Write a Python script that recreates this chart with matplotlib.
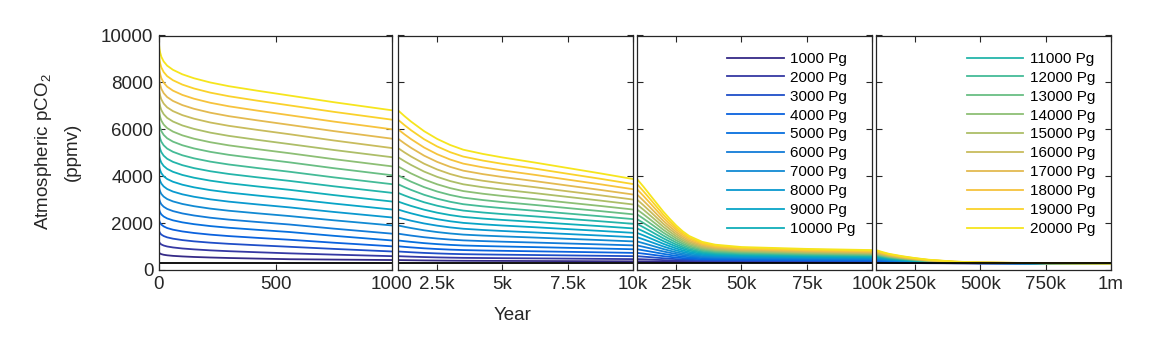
import numpy as np
import matplotlib
matplotlib.use("Agg")
import matplotlib.pyplot as plt
from matplotlib.colors import LinearSegmentedColormap

plt.rcParams['font.family'] = ['Liberation Sans', 'DejaVu Sans']
plt.rcParams['mathtext.default'] = 'regular'

# time axis (years after the pulse)
years = [0, 2, 5, 10, 20, 35, 60, 100, 150, 220, 300, 420, 560, 750, 1000,
         1250, 1500, 2000, 2500, 3000, 3500, 4250, 5000, 6250, 7500, 8750, 10000,
         12500, 15000, 17500, 20000, 22500, 25000, 27500, 30000, 35000, 40000, 50000, 75000, 100000,
         125000, 150000, 200000, 250000, 300000, 400000, 500000, 750000, 1000000]

# atmospheric pCO2 (ppmv) for each emission pulse
pg1000 = [748, 722, 700, 676, 650, 627, 603, 579, 556, 533, 512, 487, 460, 444, 425,
          420, 416, 408, 402, 397, 393, 390, 387, 383, 379, 374, 370,
          367, 363, 359, 356, 352, 350, 347, 345, 342, 341, 340, 330, 320,
          314, 309, 302, 296, 291, 286, 283, 281, 280]
pg2000 = [1216, 1170, 1131, 1090, 1044, 1003, 962, 918, 880, 838, 802, 758, 710, 656, 590,
          579, 569, 552, 538, 527, 518, 511, 504, 495, 485, 475, 465,
          455, 444, 433, 422, 412, 403, 396, 390, 382, 378, 375, 360, 350,
          340, 330, 318, 308, 300, 290, 285, 281, 281]
pg3000 = [1684, 1622, 1568, 1511, 1449, 1392, 1336, 1276, 1222, 1166, 1116, 1056, 990, 900, 790,
          773, 757, 729, 707, 689, 675, 663, 653, 638, 622, 606, 590,
          569, 547, 524, 502, 482, 464, 448, 435, 419, 411, 405, 390, 375,
          361, 348, 332, 318, 307, 293, 287, 282, 281]
pg4000 = [2152, 2074, 2008, 1937, 1860, 1789, 1719, 1645, 1579, 1508, 1446, 1372, 1290, 1164, 1010,
          986, 964, 925, 894, 869, 850, 832, 818, 797, 775, 753, 730,
          697, 662, 627, 592, 561, 532, 507, 487, 462, 450, 440, 420, 405,
          386, 370, 348, 330, 315, 298, 289, 283, 281]
pg5000 = [2620, 2530, 2453, 2371, 2281, 2199, 2118, 2032, 1955, 1873, 1801, 1715, 1620, 1458, 1260,
          1228, 1199, 1146, 1104, 1071, 1045, 1022, 1003, 975, 945, 916, 885,
          838, 789, 739, 690, 646, 605, 570, 541, 506, 489, 475, 450, 430,
          408, 388, 362, 340, 322, 301, 291, 283, 281]
pg6000 = [3088, 2985, 2896, 2802, 2699, 2605, 2512, 2413, 2325, 2230, 2148, 2049, 1940, 1764, 1550,
          1508, 1468, 1398, 1342, 1298, 1264, 1233, 1207, 1170, 1130, 1091, 1050,
          988, 924, 858, 793, 735, 681, 635, 597, 551, 528, 510, 480, 460,
          433, 410, 378, 352, 331, 305, 293, 284, 282]
pg7000 = [3556, 3443, 3346, 3243, 3130, 3027, 2925, 2817, 2721, 2618, 2527, 2419, 2300, 2120, 1900,
          1842, 1789, 1693, 1617, 1557, 1510, 1468, 1434, 1383, 1329, 1276, 1220,
          1142, 1061, 979, 896, 824, 756, 697, 650, 592, 563, 540, 510, 490,
          459, 431, 394, 364, 339, 309, 295, 284, 282]
pg8000 = [4024, 3902, 3798, 3687, 3565, 3454, 3344, 3228, 3124, 3013, 2915, 2799, 2670, 2476, 2240,
          2169, 2102, 1985, 1891, 1816, 1759, 1707, 1664, 1601, 1534, 1469, 1400,
          1306, 1207, 1107, 1007, 919, 837, 766, 709, 638, 603, 575, 540, 515,
          480, 449, 408, 374, 346, 313, 296, 285, 282]
pg9000 = [4492, 4361, 4250, 4130, 4000, 3881, 3763, 3638, 3526, 3407, 3303, 3178, 3040, 2833, 2580,
          2495, 2417, 2278, 2166, 2078, 2010, 1948, 1897, 1823, 1744, 1667, 1585,
          1474, 1357, 1239, 1121, 1017, 919, 835, 768, 684, 643, 610, 570, 545,
          505, 471, 424, 386, 354, 317, 299, 286, 282]
pg10000 = [4960, 4821, 4703, 4577, 4438, 4312, 4187, 4054, 3936, 3810, 3699, 3566, 3420, 3195, 2920,
           2823, 2732, 2572, 2444, 2342, 2264, 2193, 2135, 2049, 1958, 1869, 1775,
           1646, 1511, 1374, 1237, 1116, 1003, 906, 828, 731, 683, 645, 600, 570,
           527, 489, 438, 396, 361, 321, 300, 286, 283]
pg11000 = [5428, 5281, 5156, 5023, 4876, 4743, 4611, 4471, 4345, 4212, 4095, 3955, 3800, 3570, 3290,
           3178, 3074, 2889, 2741, 2623, 2534, 2452, 2385, 2286, 2181, 2078, 1970,
           1822, 1667, 1510, 1354, 1215, 1086, 974, 885, 773, 719, 675, 630, 600,
           552, 510, 454, 408, 370, 325, 302, 287, 283]
pg12000 = [5896, 5742, 5611, 5471, 5318, 5178, 5040, 4893, 4762, 4622, 4499, 4352, 4190, 3951, 3660,
           3533, 3416, 3207, 3040, 2908, 2806, 2714, 2638, 2526, 2408, 2292, 2170,
           2004, 1828, 1652, 1475, 1319, 1173, 1047, 947, 821, 760, 710, 660, 630,
           578, 532, 470, 420, 378, 329, 305, 287, 283]
pg13000 = [6364, 6204, 6068, 5922, 5763, 5617, 5473, 5321, 5184, 5039, 4911, 4759, 4590, 4342, 4040,
           3899, 3767, 3534, 3347, 3199, 3086, 2983, 2898, 2773, 2641, 2512, 2375,
           2189, 1994, 1796, 1599, 1425, 1262, 1122, 1009, 869, 800, 745, 690, 655,
           599, 550, 484, 430, 385, 333, 306, 288, 283]
pg14000 = [6832, 6665, 6523, 6371, 6204, 6052, 5902, 5743, 5600, 5449, 5315, 5156, 4980, 4728, 4420,
           4264, 4118, 3861, 3655, 3491, 3366, 3252, 3158, 3020, 2874, 2731, 2580,
           2375, 2159, 1941, 1723, 1531, 1351, 1196, 1072, 917, 841, 780, 720, 685,
           624, 572, 500, 442, 394, 337, 308, 289, 284]
pg15000 = [7300, 7126, 6978, 6819, 6646, 6487, 6331, 6165, 6017, 5858, 5719, 5553, 5370, 5118, 4810,
           4639, 4480, 4197, 3972, 3792, 3655, 3530, 3428, 3277, 3117, 2960, 2795,
           2569, 2331, 2090, 1850, 1638, 1439, 1269, 1132, 961, 877, 810, 750, 710,
           646, 590, 514, 452, 401, 340, 310, 289, 284]
pg16000 = [7768, 7590, 7438, 7275, 7097, 6935, 6775, 6605, 6453, 6290, 6148, 5978, 5790, 5524, 5200,
           5013, 4840, 4533, 4287, 4092, 3942, 3806, 3694, 3530, 3356, 3185, 3005,
           2759, 2500, 2238, 1977, 1746, 1530, 1344, 1195, 1009, 918, 845, 780, 740,
           671, 611, 530, 464, 409, 344, 312, 290, 284]
pg17000 = [8236, 8052, 7894, 7727, 7542, 7375, 7209, 7033, 6875, 6708, 6560, 6384, 6190, 5924, 5600,
           5398, 5210, 4876, 4610, 4398, 4236, 4089, 3967, 3789, 3601, 3415, 3220,
           2953, 2672, 2389, 2106, 1856, 1622, 1421, 1259, 1058, 960, 880, 810, 770,
           697, 633, 547, 476, 418, 349, 314, 290, 284]
pg18000 = [8704, 8515, 8353, 8180, 7991, 7818, 7648, 7467, 7305, 7132, 6981, 6800, 6600, 6330, 6000,
           5783, 5581, 5223, 4937, 4710, 4536, 4378, 4247, 4056, 3854, 3655, 3445,
           3157, 2853, 2547, 2241, 1970, 1717, 1499, 1325, 1107, 1001, 915, 840, 795,
           718, 651, 560, 486, 425, 352, 316, 291, 285]
pg19000 = [9172, 8978, 8813, 8636, 8442, 8266, 8092, 7907, 7741, 7564, 7410, 7224, 7020, 6745, 6410,
           6177, 5960, 5576, 5268, 5024, 4837, 4667, 4527, 4321, 4104, 3890, 3665,
           3355, 3029, 2699, 2370, 2079, 1807, 1573, 1386, 1152, 1037, 945, 870, 825,
           743, 672, 576, 498, 433, 356, 318, 291, 285]
pg20000 = [9640, 9442, 9273, 9092, 8894, 8714, 8536, 8346, 8177, 7997, 7838, 7649, 7440, 7156, 6810,
           6560, 6330, 5920, 5590, 5330, 5130, 4950, 4800, 4580, 4350, 4120, 3880,
           3550, 3200, 2850, 2500, 2190, 1900, 1650, 1450, 1200, 1080, 980, 900, 850,
           765, 690, 590, 508, 440, 360, 320, 292, 285]

series = [pg1000, pg2000, pg3000, pg4000, pg5000, pg6000, pg7000, pg8000, pg9000, pg10000,
          pg11000, pg12000, pg13000, pg14000, pg15000, pg16000, pg17000, pg18000, pg19000, pg20000]
labels = ['%d Pg' % (1000 * (k + 1)) for k in range(20)]
preindustrial = 280

# panel x ranges and ticks
xlims = [(0, 1000), (1000, 10000), (10000, 100000), (100000, 1000000)]
xticks = [[0, 500, 1000], [2500, 5000, 7500, 10000],
          [25000, 50000, 75000, 100000], [250000, 500000, 750000, 1000000]]
xticklabels = [['0', '500', '1000'], ['2.5k', '5k', '7.5k', '10k'],
               ['25k', '50k', '75k', '100k'], ['250k', '500k', '750k', '1m']]

# parula (MATLAB default) approximated from its table
parula_rgb = [(0.2081, 0.1663, 0.5292), (0.2081, 0.2386, 0.6771), (0.0591, 0.3598, 0.8683),
              (0.0165, 0.4266, 0.8786), (0.0723, 0.4887, 0.8467), (0.0641, 0.5570, 0.8240),
              (0.0239, 0.6287, 0.8038), (0.0384, 0.6743, 0.7436), (0.1453, 0.7098, 0.6646),
              (0.3022, 0.7376, 0.5712), (0.4871, 0.7491, 0.4840), (0.6473, 0.7456, 0.4188),
              (0.7858, 0.7356, 0.3633), (0.9139, 0.7258, 0.3063), (0.9955, 0.7861, 0.1967),
              (0.9626, 0.8705, 0.1309), (0.9763, 0.9831, 0.0538)]
parula = LinearSegmentedColormap.from_list('parula', parula_rgb)
colors = parula(np.linspace(0, 0.95, 20))

fig = plt.figure(figsize=(11.6, 3.4), dpi=100)
lefts = [159, 398, 637, 876]
widths = [233, 235, 235, 235]
axes = []
for j in range(4):
    ax = fig.add_axes([lefts[j] / 1160, 1 - 270 / 340, widths[j] / 1160, 234.5 / 340])
    for k in range(20):
        ax.plot(years, series[k], color=colors[k], lw=1.3, label=labels[k])
    ax.axhline(preindustrial, color='black', lw=1.3)
    ax.set_xlim(*xlims[j])
    ax.set_ylim(0, 10000)
    ax.set_xticks(xticks[j])
    ax.set_xticklabels(xticklabels[j])
    ax.set_yticks(range(0, 10001, 2000))
    if j > 0:
        ax.set_yticklabels([])
    ax.tick_params(direction='in', top=True, right=True, length=4, width=0.8,
                   labelsize=13.5, colors='#262626', pad=4)
    for s in ax.spines.values():
        s.set_color('#262626')
        s.set_linewidth(0.9)
    axes.append(ax)

h, l = axes[2].get_legend_handles_labels()
leg_kw = dict(frameon=False, fontsize=11, handlelength=3.7, handletextpad=0.45,
              labelspacing=0.32, borderpad=0, borderaxespad=0, loc='upper left')
axes[2].legend(h[:10], l[:10], bbox_to_anchor=(0.383, 0.93), **leg_kw)
axes[3].legend(h[10:20], l[10:20], bbox_to_anchor=(0.387, 0.93), **leg_kw)

fig.text(57 / 1160, 1 - 152 / 340, 'Atmospheric pCO$_2$\n(ppmv)', rotation=90,
         ha='center', va='center', multialignment='center', linespacing=1.75,
         fontsize=13.5, color='#262626')
fig.text(513 / 1160, 1 - 315 / 340, 'Year', ha='center', va='center',
         fontsize=13.5, color='#262626')

fig.savefig('out.png', dpi=100)
